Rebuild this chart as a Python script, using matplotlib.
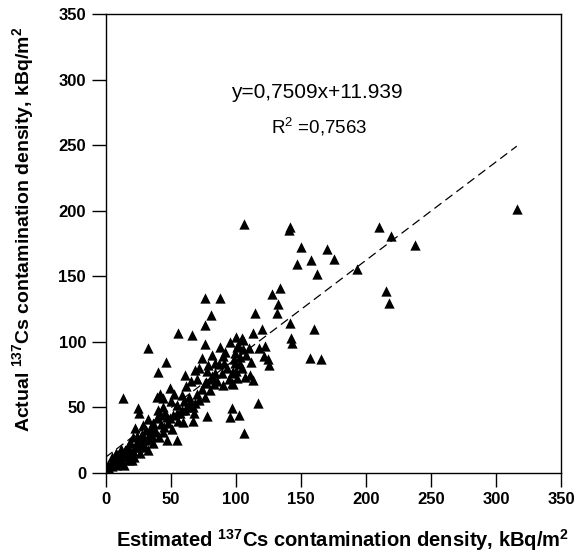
import matplotlib
matplotlib.use("Agg")
import matplotlib.pyplot as plt
import numpy as np

plt.rcParams['font.family'] = ['Liberation Sans', 'DejaVu Sans']
plt.rcParams['mathtext.fontset'] = 'custom'
plt.rcParams['mathtext.rm'] = 'Liberation Sans'
plt.rcParams['mathtext.bf'] = 'Liberation Sans:bold'
plt.rcParams['mathtext.it'] = 'Liberation Sans:italic'

estimated = [
    316.5, 106.5, 141.4, 141.0, 150.4, 169.9, 158.0, 146.8, 175.3, 162.4,
    134.2, 127.6, 76.8, 88.0, 80.9, 115.0, 132.4, 131.9, 76.8, 141.9,
    159.9, 210.4, 219.4, 238.0, 193.2, 215.2, 218.0, 142.7, 143.2, 113.2,
    122.5, 156.8, 165.5, 121.4, 124.5, 125.3, 105.5, 101.4, 106.0, 99.6,
    103.5, 98.8, 104.8, 97.8, 111.2, 56.0, 66.3, 76.3, 102.0, 104.8,
    33.0, 46.5, 74.0, 81.7, 90.6, 79.1, 87.5, 99.6, 68.8, 61.2,
    40.0, 89.4, 97.0, 100.9, 77.3, 81.2, 97.0, 107.3, 49.6, 41.9,
    44.5, 58.6, 70.2, 76.5, 65.0, 54.8, 58.6, 67.5, 77.8, 97.0,
    102.2, 95.8, 41.9, 49.6, 59.8, 67.5, 36.8, 76.5, 83.0, 98.3,
    113.7, 68.8, 68.0, 106.5, 117.5, 13.2, 39.4, 25.2, 26.0, 32.9,
    39.4, 47.0, 54.8, 61.2, 22.7, 29.1, 34.2, 44.5, 50.9, 54.8,
    32.9, 18.8, 15.0, 9.8, 6.0, 2.2, 20.2, 16.3, 26.5, 21.4,
    27.8, 4.8, 11.2, 36.8, 47.0, 41.4,
    3.0, 5.0, 8.0, 10.0, 12.0, 14.0, 17.0, 19.0, 23.0, 24.0,
    28.0, 30.0, 31.0, 35.0, 38.0, 43.0, 45.0, 48.0, 52.0, 56.0,
    60.0, 63.0, 72.0, 74.0, 80.0, 84.0, 86.0, 90.0, 93.0, 95.0,
    100.0, 103.0, 108.0, 110.0, 112.0, 118.0, 120.0, 12.0, 8.0, 14.0,
    18.0, 22.0, 25.0, 30.0, 36.0, 40.0, 44.0, 50.0, 53.0, 62.0,
    66.0, 70.0, 72.0, 78.0, 84.0, 88.0, 92.0, 96.0, 100.0,
    7.0, 10.0, 13.0, 16.0, 19.0, 21.0, 24.0, 27.0, 33.0, 37.0,
    46.0, 57.0, 64.0, 82.0, 91.0,
]
actual = [
    201.6, 190.0, 187.4, 185.0, 172.0, 170.6, 162.5, 159.4, 163.5, 151.8,
    141.1, 136.5, 133.5, 133.5, 120.8, 122.3, 128.9, 121.8, 112.6, 114.5,
    110.0, 187.4, 180.8, 174.0, 155.8, 138.6, 130.0, 102.7, 98.9, 107.0,
    96.9, 87.5, 86.7, 89.2, 86.7, 82.4, 101.4, 96.3, 94.3, 91.3,
    88.3, 86.7, 79.9, 77.3, 74.8, 106.6, 105.3, 98.4, 97.6, 102.7,
    95.0, 84.7, 87.5, 90.0, 89.2, 82.4, 83.1, 84.1, 78.6, 74.8,
    77.3, 76.5, 76.5, 72.2, 69.6, 71.5, 68.4, 73.5, 64.6, 60.3,
    57.0, 59.5, 60.3, 58.2, 54.4, 51.9, 48.0, 50.6, 43.5, 49.4,
    44.2, 43.0, 44.2, 41.7, 39.1, 39.9, 37.9, 68.9, 67.9, 67.9,
    70.9, 53.2, 45.5, 30.3, 53.6, 57.0, 58.2, 49.4, 46.0, 41.0,
    41.7, 43.0, 45.5, 48.1, 34.1, 36.6, 30.3, 31.5, 33.3, 25.2,
    17.5, 22.7, 17.5, 13.7, 9.9, 6.1, 9.9, 13.7, 15.0, 27.7,
    25.2, 12.4, 7.4, 22.7, 25.2, 27.7,
    3.0, 5.0, 6.0, 11.0, 10.0, 14.0, 20.0, 15.0, 20.0, 28.0,
    30.0, 25.0, 33.0, 35.0, 33.0, 37.0, 35.0, 38.0, 44.0, 40.0,
    55.0, 50.0, 56.0, 64.0, 63.0, 76.0, 70.0, 67.0, 80.0, 72.0,
    78.0, 83.0, 90.0, 95.0, 85.0, 95.0, 110.0, 18.0, 15.0, 6.0,
    10.0, 12.0, 20.0, 20.0, 28.0, 48.0, 50.0, 55.0, 60.0, 66.0,
    70.0, 72.0, 80.0, 78.0, 84.0, 96.0, 92.0, 100.0, 104.0,
    8.0, 8.0, 16.0, 12.0, 24.0, 17.0, 24.0, 22.0, 26.0, 31.0,
    46.0, 46.0, 58.0, 74.0, 84.0,
]

slope = 0.7509
intercept = 11.939
fit_x_range = [0, 316]
x_ticks = [0, 50, 100, 150, 200, 250, 300, 350]
y_ticks = [0, 50, 100, 150, 200, 250, 300, 350]

fig = plt.figure(figsize=(5.75, 5.56), dpi=100)
ax = fig.add_axes([0.1835, 0.1493, 0.7922, 0.8255])

ax.scatter(estimated, actual, marker='^', s=55, color='black', linewidths=0, zorder=3)

fx = np.array(fit_x_range, dtype=float)
ax.plot(fx, slope * fx + intercept, color='black', lw=0.9, dashes=(7, 4), zorder=2)

ax.set_xlim(0, 350)
ax.set_ylim(0, 350)
ax.set_xticks(x_ticks)
ax.set_yticks(y_ticks)
ax.tick_params(axis='both', direction='out', length=10, width=1, labelsize=12, pad=4)
for lab in ax.get_xticklabels() + ax.get_yticklabels():
    lab.set_fontweight('bold')
for sp in ax.spines.values():
    sp.set_linewidth(1)

ax.set_xlabel(r"Estimated $^{\mathbf{137}}$Cs contamination density, kBq/m$^{\mathbf{2}}$",
              fontsize=14.5, fontweight='bold')
ax.set_ylabel(r"Actual $^{\mathbf{137}}$Cs contamination density, kBq/m$^{\mathbf{2}}$",
              fontsize=14, fontweight='bold')
ax.xaxis.set_label_coords(0.521, -0.118)
ax.yaxis.set_label_coords(-0.152, 0.53)

ax.text(162, 290, "y=0,7509x+11.939", fontsize=15, ha='center', va='center')
ax.text(164, 264, r"R$^{2}$ =0,7563", fontsize=13.5, ha='center', va='center')

fig.savefig("out.png", dpi=100)
